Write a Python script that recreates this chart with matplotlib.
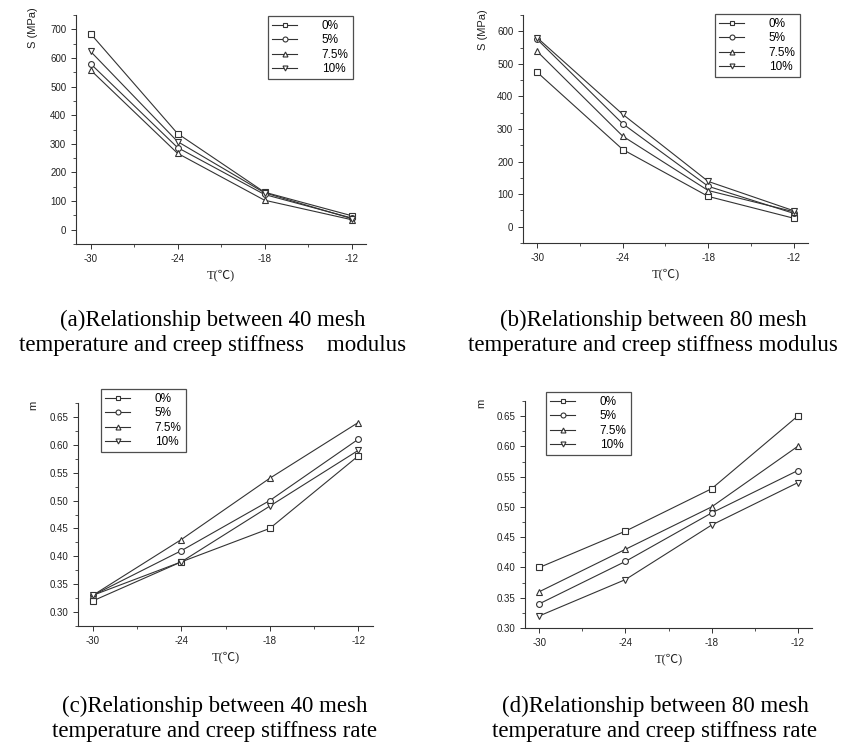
import matplotlib
matplotlib.use('Agg')
import matplotlib.pyplot as plt
from matplotlib.ticker import MultipleLocator, FormatStrFormatter

plt.rcParams['axes.unicode_minus'] = False

W, H = 857, 747

temps = [-30, -24, -18, -12]
labels = ['0%', '5%', '7.5%', '10%']
markers = ['s', 'o', '^', 'v']

# (a) 40 mesh, stiffness modulus S (MPa)
s40 = {
    '0%': [685, 336, 131, 49],
    '5%': [580, 287, 123, 41],
    '7.5%': [558, 267, 103, 35],
    '10%': [623, 308, 129, 39],
}
# (b) 80 mesh, stiffness modulus S (MPa)
s80 = {
    '0%': [474, 237, 93, 26],
    '5%': [575, 316, 124, 41],
    '7.5%': [538, 278, 111, 46],
    '10%': [580, 345, 139, 49],
}
# (c) 40 mesh, creep rate m
m40 = {
    '0%': [0.32, 0.39, 0.45, 0.58],
    '5%': [0.33, 0.41, 0.50, 0.61],
    '7.5%': [0.33, 0.43, 0.54, 0.64],
    '10%': [0.33, 0.39, 0.49, 0.59],
}
# (d) 80 mesh, creep rate m
m80 = {
    '0%': [0.40, 0.46, 0.53, 0.65],
    '5%': [0.34, 0.41, 0.49, 0.56],
    '7.5%': [0.36, 0.43, 0.50, 0.60],
    '10%': [0.32, 0.38, 0.47, 0.54],
}

captions = [
    ('(a)Relationship between 40 mesh', 'temperature and creep stiffness    modulus'),
    ('(b)Relationship between 80 mesh', 'temperature and creep stiffness modulus'),
    ('(c)Relationship between 40 mesh', 'temperature and creep stiffness rate'),
    ('(d)Relationship between 80 mesh', 'temperature and creep stiffness rate'),
]

fig = plt.figure(figsize=(W / 100, H / 100), dpi=100)
sans = 'Liberation Sans'
serif = ['Liberation Serif', 'Noto Sans CJK SC', 'DejaVu Serif']
ink = '#333333'


def px_axes(l, t, r, b):
    return fig.add_axes([l / W, 1 - b / H, (r - l) / W, (b - t) / H])


def panel(box, data, ylim, ymajor, fmt, ylabel, ylab_px, leg_px):
    l, t, r, b = box
    ax = px_axes(l, t, r, b)
    for lab, mk in zip(labels, markers):
        ax.plot(temps, data[lab], color=ink, lw=0.8, marker=mk, ms=4.2,
                mfc='white', mec=ink, mew=0.8, label=lab)
    ax.set_xlim(-31, -11)
    ax.set_ylim(*ylim)
    ax.set_xticks(temps)
    ax.xaxis.set_minor_locator(MultipleLocator(3))
    ax.yaxis.set_major_locator(MultipleLocator(ymajor))
    ax.yaxis.set_minor_locator(MultipleLocator(ymajor / 2))
    ax.yaxis.set_major_formatter(FormatStrFormatter(fmt))
    ax.spines['top'].set_visible(False)
    ax.spines['right'].set_visible(False)
    for s in ('left', 'bottom'):
        ax.spines[s].set_color(ink)
        ax.spines[s].set_linewidth(0.8)
    ax.tick_params(which='major', direction='out', length=3.5, width=0.7,
                   colors=ink, labelsize=7, labelcolor='#222222')
    ax.tick_params(which='minor', direction='out', length=2, width=0.6, colors=ink)
    for tl in ax.get_xticklabels() + ax.get_yticklabels():
        tl.set_family(sans)
    ax.set_xlabel('T(℃)', family=serif, fontsize=9, color='#222222', labelpad=4)
    ax.set_ylabel(ylabel, family=sans, fontsize=8, color='#222222')
    ax.yaxis.set_label_coords((ylab_px[0] - l) / (r - l), (b - ylab_px[1]) / (b - t))
    ll, lt, lr, lb = leg_px
    leg = ax.legend(loc='upper left',
                    bbox_to_anchor=((ll - l) / (r - l), (b - lt) / (b - t)),
                    prop={'family': sans, 'size': 8.5}, frameon=True, fancybox=False,
                    borderpad=0.35, labelspacing=0.2, handlelength=2.1,
                    handletextpad=2.1, borderaxespad=0, markerscale=0.85)
    leg.get_frame().set_edgecolor('#222222')
    leg.get_frame().set_linewidth(0.9)
    return ax


panel((76, 15, 366, 244), s40, (-50, 750), 100, '%d', 'S (MPa)', (38, 28), (268, 16, 352, 77))
panel((523, 15, 808, 243), s80, (-50, 650), 100, '%d', 'S (MPa)', (488, 30), (715, 14, 798, 75))
panel((78, 403, 373, 626), m40, (0.275, 0.675), 0.05, '%.2f', 'm', (38, 405), (101, 389, 187, 449))
panel((525, 401, 812, 628), m80, (0.30, 0.675), 0.05, '%.2f', 'm', (486, 403), (546, 392, 629, 452))

cap_pos = [(213, 320), (653, 320), (215, 706), (655, 706)]
for (x, y), (l1, l2) in zip(cap_pos, captions):
    fig.text(x / W, 1 - y / H, l1, ha='center', va='center', family=serif, fontsize=16.5)
    fig.text(x / W, 1 - (y + 26) / H, l2, ha='center', va='center', family=serif, fontsize=16.5)

fig.savefig('out.png', dpi=100, facecolor='white')
